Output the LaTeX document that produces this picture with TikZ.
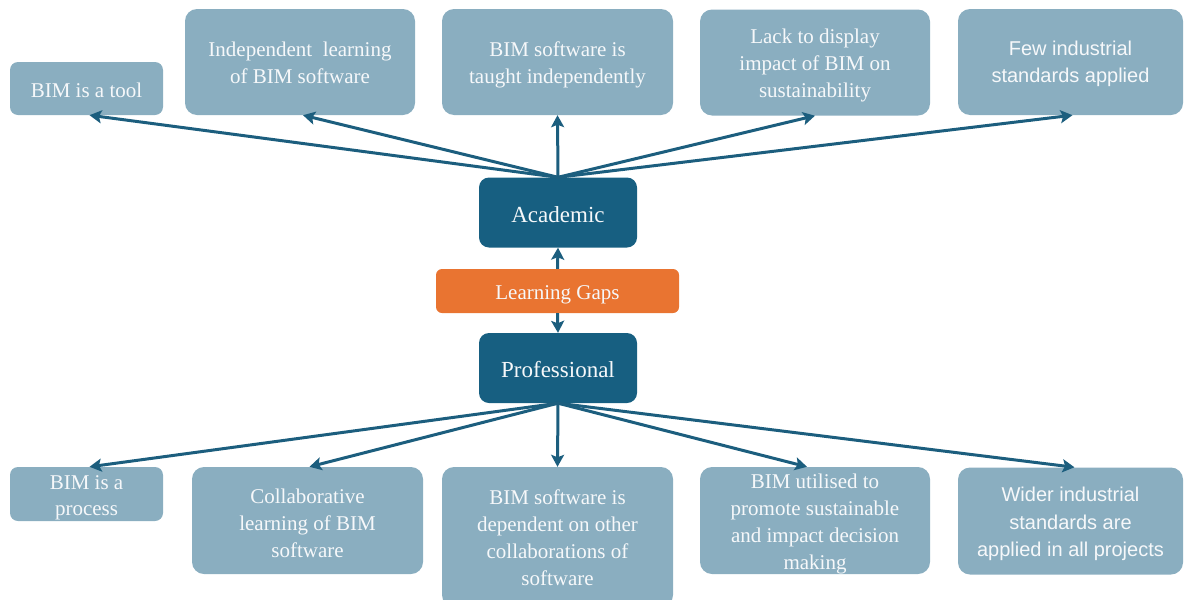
\documentclass[tikz,border=0pt]{standalone}
\usepackage{fontspec}
\setmainfont{Liberation Serif}
\newfontfamily\sansf{Liberation Sans}
\usetikzlibrary{arrows.meta}
\definecolor{lightbox}{HTML}{8AAEC0}
\definecolor{darkbox}{HTML}{175F81}
\definecolor{orangebox}{HTML}{E97431}
\definecolor{arrowc}{HTML}{1C5E7E}
\definecolor{txt}{HTML}{F6F8FA}
\newcommand\topstrut[1]{\rule{0pt}{#1}}
\tikzset{
  box/.style={fill=lightbox, draw=none, rounded corners=12pt, inner sep=0pt, align=center, text=txt,
    font=\fontsize{21}{27}\selectfont},
  boxtext/.style={inner sep=0pt, align=center, text=txt, font=\fontsize{21}{27}\selectfont},
  darknode/.style={fill=darkbox, draw=none, rounded corners=10pt, inner sep=0pt, text=txt,
    minimum width=158pt, minimum height=70pt, font=\fontsize{23}{27}\selectfont},
  gapnode/.style={fill=orangebox, draw=none, rounded corners=6pt, inner sep=0pt, text=txt,
    minimum width=243pt, minimum height=44pt, font=\fontsize{21}{27}\selectfont},
  arr/.style={draw=arrowc, line width=3pt, -{Stealth[length=12pt,width=13pt,inset=2.5pt]}},
}
\begin{document}
\begin{tikzpicture}[x=1pt,y=-1pt]
\useasboundingbox (0,0) rectangle (1184,600);
% top row
\node[box, minimum width=153pt, minimum height=53pt, rounded corners=8pt] (tool) at (86.5,88.5) {\topstrut{18.5pt}BIM is a tool};
\node[box, minimum width=230pt, minimum height=106pt] (indep) at (300,62) {\topstrut{16.5pt}Independent\ \ learning\\of BIM software};
\node[box, minimum width=231pt, minimum height=106pt] (taught) at (557.5,62) {\topstrut{20.5pt}BIM software is\\taught independently};
\node[box, minimum width=230pt, minimum height=106pt] (lack) at (815,62.5) {\topstrut{20.5pt}Lack to display\\impact of BIM on\\sustainability};
\node[box, minimum width=225pt, minimum height=106pt, font=\sansf\fontsize{20}{27}\selectfont] (few) at (1070.5,62) {\topstrut{18.5pt}Few industrial\\standards applied};
% centre
\node[darknode] (acad) at (558,212.5) {\topstrut{19.7pt}Academic};
\node[gapnode] (gaps) at (557.5,291) {\topstrut{22.5pt}Learning Gaps};
\node[darknode] (prof) at (558,368) {\topstrut{19.7pt}Professional};
% bottom row
\node[box, minimum width=153pt, minimum height=54pt, rounded corners=8pt,
  label={[boxtext, yshift=-3.3pt, font=\fontsize{21}{26}\selectfont]center:{BIM is a\\process}}] (process) at (86.5,494) {};
\node[box, minimum width=231pt, minimum height=107pt] (collab) at (307.5,520.5) {\topstrut{20.5pt}Collaborative\\learning of BIM\\software};
\node[box, minimum width=231pt, minimum height=140pt] (dep) at (557.5,537) {\topstrut{16.5pt}BIM software is\\dependent on other\\collaborations of\\software};
\node[box, minimum width=230pt, minimum height=107pt,
  label={[boxtext, yshift=-3.3pt]center:{BIM utilised to\\promote sustainable\\and impact decision\\making}}] (util) at (815,520.5) {};
\node[box, minimum width=225pt, minimum height=107pt, font=\sansf\fontsize{20}{27.5}\selectfont] (wider) at (1070.5,521) {\topstrut{20.5pt}Wider industrial\\standards are\\applied in all projects};
% connectors
\draw[arr] (acad.north) -- ([xshift=3pt]tool.south);
\draw[arr] (acad.north) -- ([xshift=3pt]indep.south);
\draw[arr] (acad.north) -- (taught.south);
\draw[arr] (acad.north) -- (lack.south);
\draw[arr] (acad.north) -- ([xshift=2pt]few.south);
\draw[arr] (gaps.north) -- (acad.south);
\draw[arr] (gaps.south) -- (prof.north);
\draw[arr] (prof.south) -- ([xshift=3pt]process.north);
\draw[arr] (prof.south) -- ([xshift=2pt]collab.north);
\draw[arr] (prof.south) -- (dep.north);
\draw[arr] (prof.south) -- ([xshift=-8pt]util.north);
\draw[arr] (prof.south) -- ([xshift=4pt]wider.north);
\end{tikzpicture}
\end{document}
